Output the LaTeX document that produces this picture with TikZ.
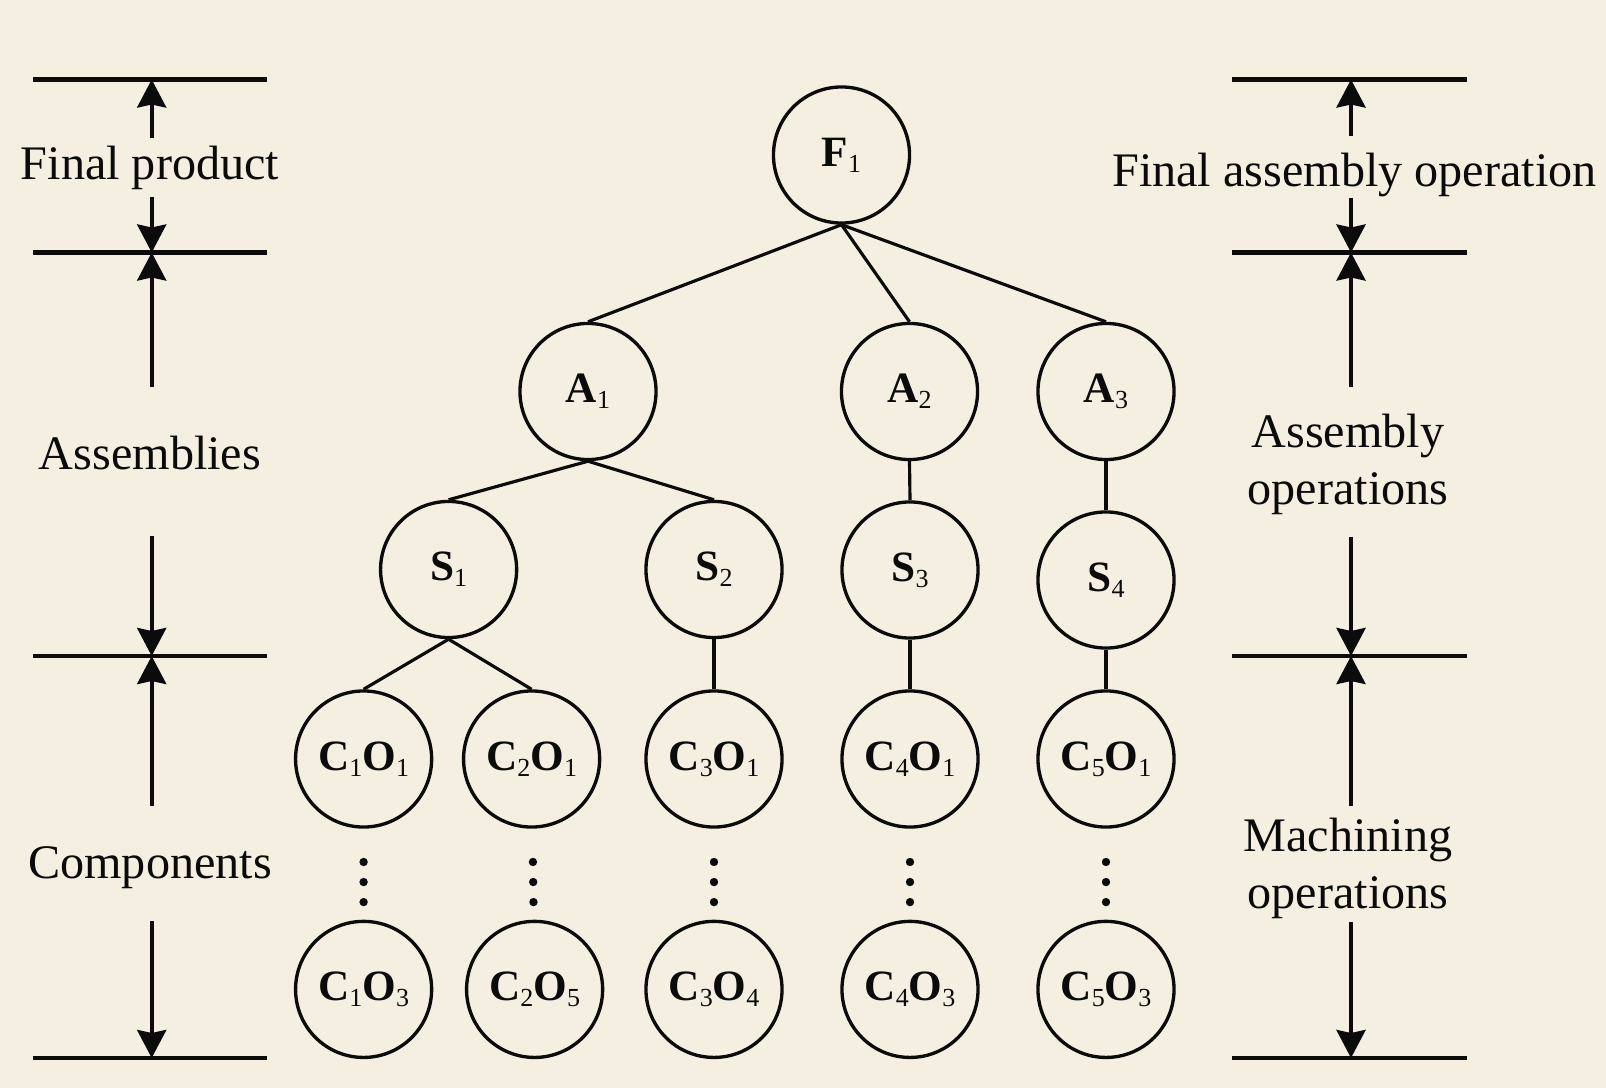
\documentclass[tikz,border=0pt]{standalone}
\usepackage{fontspec}
\setmainfont{Liberation Serif}
\usetikzlibrary{arrows.meta,positioning,calc}
\definecolor{cPaper}{HTML}{F4EFE1}
\definecolor{cInk}{HTML}{0B0B0B}
\newcommand{\lsub}[1]{\raisebox{-1.7pt}{\fontsize{7.4}{8}\selectfont\mdseries #1}}
\tikzset{
  tierlabel/.style={font=\fontsize{13.7}{16.2}\selectfont, text=cInk,
    inner sep=0pt, align=center},
}

\begin{document}
\begin{tikzpicture}[
  x=0.01cm, y=-0.01cm,
  opnode/.style={circle, draw=cInk, line width=0.95pt, minimum size=1.36cm,
    inner sep=0pt, font=\fontsize{12.3}{14}\selectfont\bfseries, text=cInk},
  link/.style={draw=cInk, line width=0.9pt},
  tierline/.style={draw=cInk, line width=1.15pt},
  dimarrow/.style={-{Stealth[length=2.8mm,width=2.9mm,inset=0.3mm]},
    line width=1.1pt, cInk},
]
\fill[cPaper] (0,0) rectangle (1606,1088);
% level lines on both sides
\foreach \y [count=\i from 0] in {79.5,252.5,656,1058} {
  \draw[tierline] (33,\y) -- (267,\y);
  \draw[tierline] (1232,\y) -- (1467,\y);
  \coordinate (tL\i) at (151.7,\y);
  \coordinate (tR\i) at (1351,\y);
}
% product tree
\node[opnode] (F1) at (841.5,155) {F\lsub{1}};
\node[opnode] (A1) at (588,391.5) {A\lsub{1}};
\node[opnode] (A2) at (909.5,391.5) {A\lsub{2}};
\node[opnode] (A3) at (1106,391.5) {A\lsub{3}};
\node[opnode] (S1) at (448.6,569.5) {S\lsub{1}};
\node[opnode] (S2) at (714,569.5) {S\lsub{2}};
\node[opnode] (S3) at (910,570) {S\lsub{3}};
\node[opnode] (S4) at (1106,580) {S\lsub{4}};
\node[opnode] (c1o1) at (363.6,759) {C\lsub{1}O\lsub{1}};
\node[opnode] (c2o1) at (531.6,759) {C\lsub{2}O\lsub{1}};
\node[opnode] (c3o1) at (714,759) {C\lsub{3}O\lsub{1}};
\node[opnode] (c4o1) at (910,759) {C\lsub{4}O\lsub{1}};
\node[opnode] (c5o1) at (1106,759) {C\lsub{5}O\lsub{1}};
\node[opnode] (c1o3) at (363.6,989.4) {C\lsub{1}O\lsub{3}};
\node[opnode] (c2o5) at (534.6,989.4) {C\lsub{2}O\lsub{5}};
\node[opnode] (c3o4) at (714,989.4) {C\lsub{3}O\lsub{4}};
\node[opnode] (c4o3) at (910,989.4) {C\lsub{4}O\lsub{3}};
\node[opnode] (c5o3) at (1106,989.4) {C\lsub{5}O\lsub{3}};
% tree edges
\draw[link] (F1.south) -- (A1.north);
\draw[link] (F1.south) -- (A2.north);
\draw[link] (F1.south) -- (A3.north);
\draw[link] (A1.south) -- (S1.north);
\draw[link] (A1.south) -- (S2.north);
\draw[link] (A2.south) -- (S3.north);
\draw[link] (A3.south) -- (S4.north);
\draw[link] (S1.south) -- (c1o1.north);
\draw[link] (S1.south) -- (c2o1.north);
\draw[link] (S2.south) -- (c3o1.north);
\draw[link] (S3.south) -- (c4o1.north);
\draw[link] (S4.south) -- (c5o1.north);
% vertical ellipses
\foreach \a/\b in {c1o1/c1o3,c2o1/c2o5,c3o1/c3o4,c4o1/c4o3,c5o1/c5o3}
  \foreach \p in {0.447,0.534,0.621}
    \fill[cInk] ($(\a)!\p!(\b)$) circle (0.42mm);
% level labels
\node[tierlabel, anchor=base] (fp) at (150,180) {Final product};
\node[tierlabel, anchor=base] (as) at (150,469.3) {Assemblies};
\node[tierlabel, anchor=base] (cp) at (150,878.3) {Components};
\node[tierlabel, anchor=base] (fa) at (1354.5,186.7) {Final assembly operation};
\node[tierlabel, anchor=north] (ao) at (1348,413.1) {Assembly\\operations};
\node[tierlabel, anchor=north] (mo) at (1348,817.1) {Machining\\operations};
% span arrows
\draw[dimarrow, shorten <=0.8mm] (tL0 |- fp.north) -- (tL0);
\draw[dimarrow, shorten <=0.56mm] (tL1 |- fp.south) -- (tL1);
\draw[dimarrow, shorten <=4.84mm] (tL1 |- as.north) -- (tL1);
\draw[dimarrow, shorten <=6.57mm] (tL2 |- as.south) -- (tL2);
\draw[dimarrow, shorten <=3.94mm] (tL2 |- cp.north) -- (tL2);
\draw[dimarrow, shorten <=3.2mm] (tL3 |- cp.south) -- (tL3);
\draw[dimarrow, shorten <=1.68mm] (tR0 |- fa.north) -- (tR0);
\draw[dimarrow] (tR1 |- fa.south) -- (tR1);
\draw[dimarrow, shorten <=2.61mm] (tR1 |- ao.north) -- (tR1);
\draw[dimarrow, shorten <=2.23mm] (tR2 |- ao.south) -- (tR2);
\draw[dimarrow, shorten <=1.11mm] (tR2 |- mo.north) -- (tR2);
\draw[dimarrow, shorten <=0.3mm] (tR3 |- mo.south) -- (tR3);
\end{tikzpicture}
\end{document}
